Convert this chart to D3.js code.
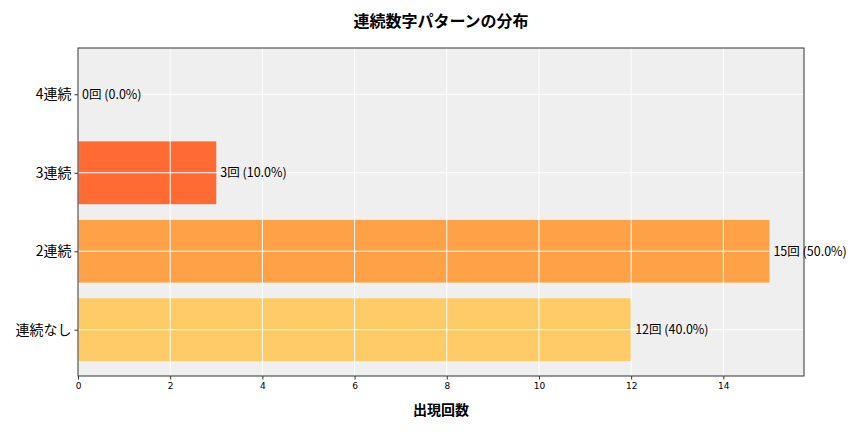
<!DOCTYPE html>
<html><head><meta charset="utf-8">
<script src="https://cdn.jsdelivr.net/npm/d3@7"></script>
<style>body{margin:0;background:#fff;}text{font-family:"Noto Sans CJK JP","Noto Sans",sans-serif;}</style>
</head><body>
<svg id="c" width="864" height="432"></svg>
<script>
const categories = ["連続なし", "2連続", "3連続", "4連続"];
const counts = [12, 15, 3, 0];
const percents = [40.0, 50.0, 10.0, 0.0];
const colors = ["#FFCB66", "#FFA247", "#FF6B33", "#FF4500"];
const xTicks = [0, 2, 4, 6, 8, 10, 12, 14];

const svg = d3.select("#c");
const L = 78, R = 804, T = 48, B = 376;
const x = d3.scaleLinear().domain([0, 15.75]).range([L, R]);
const y = d3.scaleLinear().domain([-0.59, 3.59]).range([B, T]);

svg.append("rect").attr("x", L).attr("y", T).attr("width", R - L).attr("height", B - T).attr("fill", "#efefef");

const idx = d3.range(categories.length);
svg.selectAll("rect.bar").data(idx).join("rect").attr("class", "bar")
  .attr("x", x(0)).attr("y", i => y(i + 0.4)).attr("width", i => x(counts[i]) - x(0))
  .attr("height", y(-0.4) - y(0.4)).attr("fill", i => colors[i]);

// grid
svg.selectAll("line.gx").data(xTicks).join("line").attr("class", "gx")
  .attr("x1", d => x(d)).attr("x2", d => x(d)).attr("y1", T).attr("y2", B)
  .attr("stroke", "#fff").attr("stroke-width", 1);
svg.selectAll("line.gy").data(idx).join("line").attr("class", "gy")
  .attr("x1", L).attr("x2", R).attr("y1", i => y(i)).attr("y2", i => y(i))
  .attr("stroke", "#fff").attr("stroke-width", 1);

// frame
svg.append("rect").attr("x", L).attr("y", T).attr("width", R - L).attr("height", B - T)
  .attr("fill", "none").attr("stroke", "#333").attr("stroke-width", 1);

// x axis
const xa = svg.append("g").attr("transform", `translate(0,${B})`)
  .call(d3.axisBottom(x).tickValues(xTicks).tickSize(3.5).tickPadding(3).tickFormat(d3.format("d")));
xa.select(".domain").remove();
xa.selectAll("text").attr("font-size", 9).attr("fill", "#000").style("font-family", "'Liberation Sans Narrow','DejaVu Sans',sans-serif");
xa.selectAll("line").attr("stroke", "#333");

// y axis
const ya = svg.append("g").attr("transform", `translate(${L},0)`)
  .call(d3.axisLeft(y).tickValues(idx).tickSize(3.5).tickPadding(3).tickFormat(i => categories[i]));
ya.select(".domain").remove();
ya.selectAll("text").attr("font-size", 14).attr("fill", "#000");
ya.selectAll("line").attr("stroke", "#333");

// labels
svg.selectAll("text.lab").data(idx).join("text").attr("class", "lab")
  .attr("x", i => x(counts[i]) + 4).attr("y", i => y(i)).attr("dy", "0.35em")
  .attr("font-size", 12.5).attr("fill", "#000")
  .text(i => `${counts[i]}回 (${percents[i].toFixed(1)}%)`);

svg.append("text").attr("x", (L + R) / 2).attr("y", 27).attr("text-anchor", "middle")
  .attr("font-size", 16).attr("font-weight", "bold").attr("fill", "#000").text("連続数字パターンの分布");
svg.append("text").attr("x", (L + R) / 2).attr("y", 415).attr("text-anchor", "middle")
  .attr("font-size", 14).attr("font-weight", "bold").attr("fill", "#000").text("出現回数");
</script>
</body></html>
